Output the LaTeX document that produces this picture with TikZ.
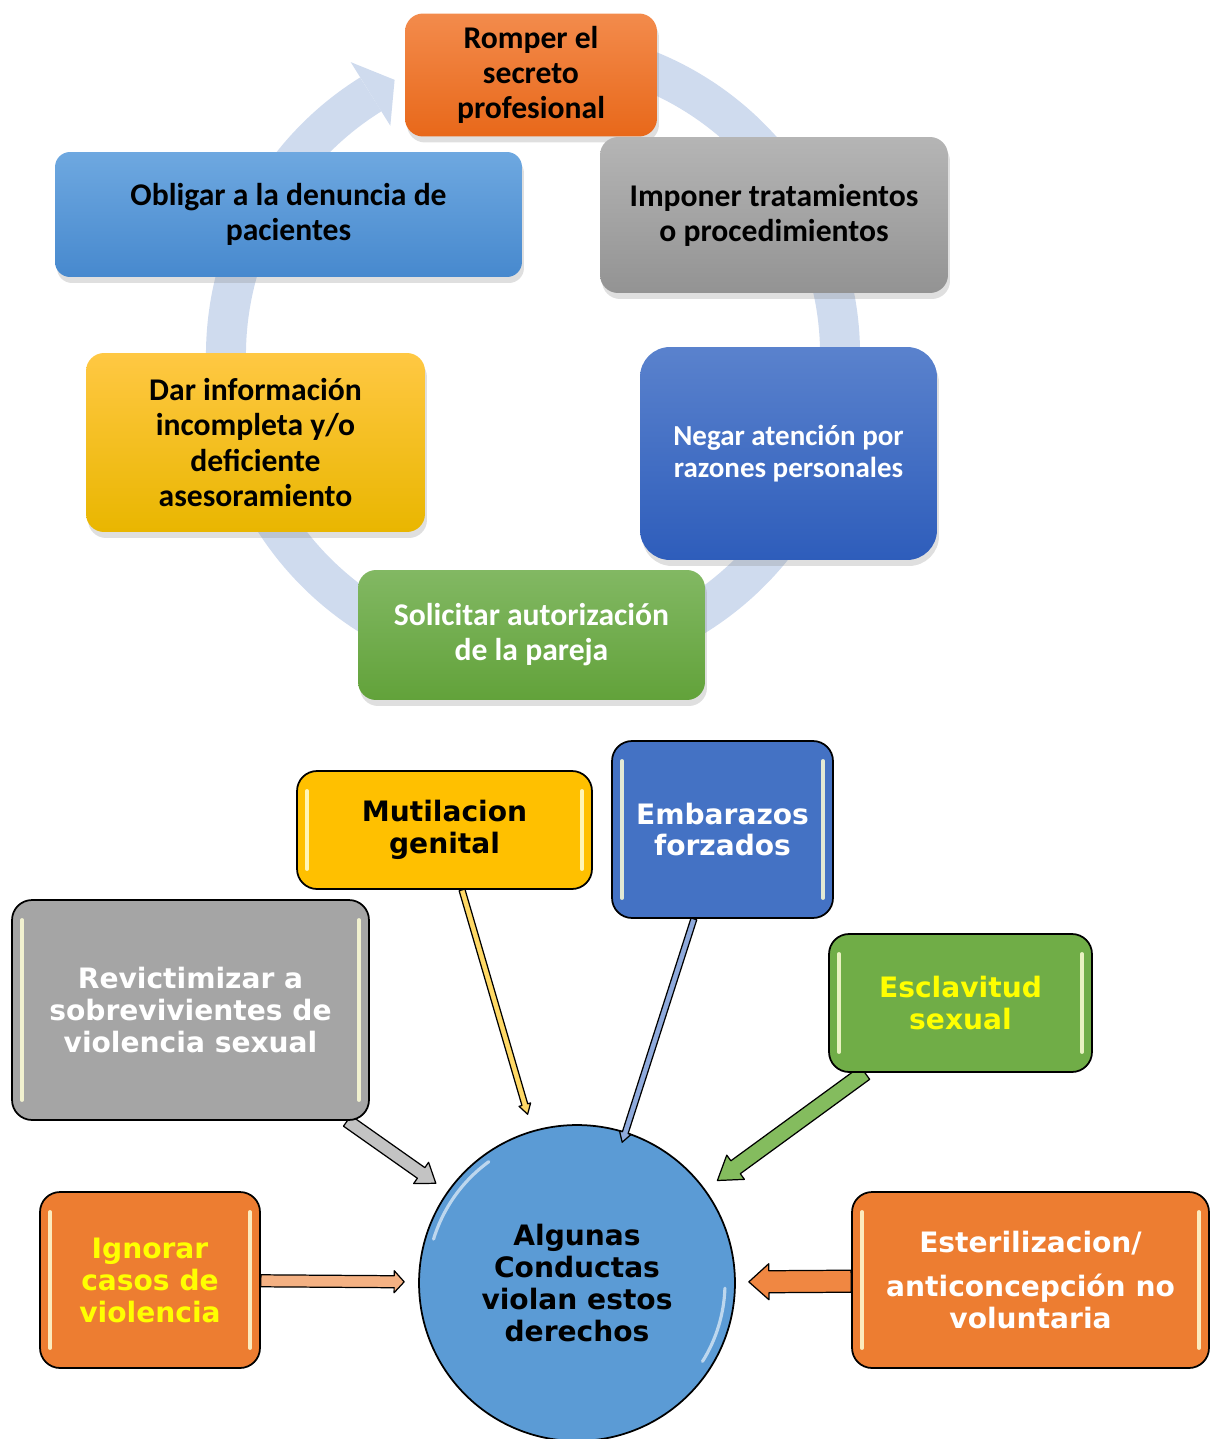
\documentclass[tikz,border=0pt]{standalone}
\usepackage{fontspec}
\newfontfamily\cyclefont{Carlito}
\newfontfamily\rightsfont{DejaVu Sans}
\usetikzlibrary{calc,shadows,backgrounds}

% colours of the cycle
\definecolor{ringblue}{RGB}{207,219,238}
\definecolor{romtop}{RGB}{243,139,76}
\definecolor{rombot}{RGB}{232,104,26}
\definecolor{obltop}{RGB}{110,168,224}
\definecolor{oblbot}{RGB}{71,137,206}
\definecolor{imptop}{RGB}{181,181,181}
\definecolor{impbot}{RGB}{147,147,147}
\definecolor{dartop}{RGB}{255,200,67}
\definecolor{darmid}{RGB}{255,192,0}
\definecolor{darbot}{RGB}{233,182,0}
\definecolor{negtop}{RGB}{90,130,205}
\definecolor{negbot}{RGB}{46,93,187}
\definecolor{soltop}{RGB}{130,184,99}
\definecolor{solbot}{RGB}{98,162,58}
% colours of the rights
\definecolor{mutyellow}{RGB}{255,192,0}
\definecolor{embblue}{RGB}{68,114,196}
\definecolor{revgrey}{RGB}{165,165,165}
\definecolor{escgreen}{RGB}{112,173,71}
\definecolor{orangebox}{RGB}{237,125,49}
\definecolor{circblue}{RGB}{91,155,213}
\definecolor{textyellow}{RGB}{255,255,0}
\definecolor{arrmut}{RGB}{255,217,102}
\definecolor{arremb}{RGB}{143,170,220}
\definecolor{arrrev}{RGB}{195,195,195}
\definecolor{arresc}{RGB}{132,188,94}
\definecolor{arrign}{RGB}{244,177,131}
\definecolor{arrest}{RGB}{240,135,66}
\definecolor{shine}{RGB}{255,255,215}

\tikzset{
  cyclebox/.style={rounded corners=0.36cm, align=center, inner sep=0pt,
    font=\cyclefont\bfseries\fontsize{18}{20}\selectfont,
    drop shadow={shadow xshift=0.04cm, shadow yshift=-0.12cm, opacity=0.25}},
  rightbox/.style={draw=black, line width=1pt, rounded corners=0.4cm, align=center, inner sep=0pt,
    font=\rightsfont\bfseries\fontsize{16}{18.2}\selectfont,
    path picture={
      \draw[shine, opacity=0.85, line width=2.2pt, line cap=round]
        ([xshift=0.2cm, yshift=-0.4cm]path picture bounding box.north west) -- ([xshift=0.2cm, yshift=0.4cm]path picture bounding box.south west)
        ([xshift=-0.2cm, yshift=-0.4cm]path picture bounding box.north east) -- ([xshift=-0.2cm, yshift=0.4cm]path picture bounding box.south east);
    }},
  blockarr/.style={draw=black, line width=0.7pt, line join=round},
}

% block arrow: from, to, colour, shaft half width, head half width, head length, gap at tip
\newcommand{\blockarrow}[7]{%
  \path (#1) -- (#2) coordinate[pos=0] (ba-s) coordinate[pos=1] (ba-e);
  \coordinate (ba-t) at ($(ba-e)!#7!(ba-s)$);
  \coordinate (ba-h) at ($(ba-t)!#6!(ba-s)$);
  \draw[blockarr, fill=#3]
    ($(ba-s)!#4!90:(ba-t)$) -- ($(ba-h)!#4!-90:(ba-s)$) -- ($(ba-h)!#5!-90:(ba-s)$)
    -- (ba-t) -- ($(ba-h)!#5!90:(ba-s)$) -- ($(ba-h)!#4!90:(ba-s)$)
    -- ($(ba-s)!#4!-90:(ba-t)$) -- cycle;
}

\begin{document}
\begin{tikzpicture}[x=0.02cm, y=-0.02cm]
    \useasboundingbox (0,0) rectangle (1216,1439);

    % Cycle ring
    \draw[ringblue, line width=0.8cm] ($(533,355)+(-80:307)$) arc[start angle=-80, end angle=238.1, radius=307];
    \fill[ringblue] ($(533,355)+(238.1:345)$) -- ($(533,355)+(243.3:308)$) -- ($(533,355)+(238.1:270)$) -- cycle;

    % Cycle boxes
    \node[cyclebox, top color=romtop, bottom color=rombot, minimum width=5.04cm, minimum height=2.46cm] (romper) at (531,75) {Romper el\\secreto\\profesional};
    \node[cyclebox, top color=obltop, bottom color=oblbot, rounded corners=0.3cm, minimum width=9.34cm, minimum height=2.5cm] (obligar) at (288.5,214.5) {Obligar a la denuncia de\\pacientes};
    \node[cyclebox, top color=imptop, bottom color=impbot, minimum width=6.96cm, minimum height=3.12cm] (imponer) at (774,215) {Imponer tratamientos\\o procedimientos};
    \node[cyclebox, top color=dartop, middle color=darmid, bottom color=darbot, minimum width=6.78cm, minimum height=3.58cm] (dar) at (255.5,442.5) {Dar información\\incompleta y/o\\deficiente\\asesoramiento};
    \node[cyclebox, top color=negtop, bottom color=negbot, rounded corners=0.6cm, text=white, font=\cyclefont\bfseries\fontsize{16.5}{18.2}\selectfont, minimum width=5.94cm, minimum height=4.26cm] (negar) at (788.5,453.5) {Negar atención por\\razones personales};
    \node[cyclebox, top color=soltop, bottom color=solbot, text=white, minimum width=6.94cm, minimum height=2.6cm] (solicitar) at (531.5,635) {Solicitar autorización\\de la pareja};

    % Rights boxes
    \node[rightbox, fill=mutyellow, minimum width=5.9cm, minimum height=2.36cm] (mutil) at (444.5,830) {Mutilacion\\genital};
    \node[rightbox, fill=embblue, text=white, minimum width=4.42cm, minimum height=3.54cm] (embar) at (722.5,829.5) {Embarazos\\forzados};
    \node[rightbox, fill=revgrey, text=white, minimum width=7.14cm, minimum height=4.4cm] (revict) at (190.5,1010) {Revictimizar a\\sobrevivientes de\\violencia sexual};
    \node[rightbox, fill=escgreen, text=textyellow, minimum width=5.26cm, minimum height=2.76cm] (esclav) at (960.5,1003) {Esclavitud\\sexual};
    \node[rightbox, fill=orangebox, text=textyellow, minimum width=4.4cm, minimum height=3.52cm] (ignorar) at (150,1280) {Ignorar\\casos de\\violencia};
    \node[rightbox, fill=orangebox, text=white, minimum width=7.14cm, minimum height=3.52cm] (esteril) at (1030.5,1280) {Esterilizacion/\\[0.26cm]anticoncepción no\\voluntaria};

    % Centre circle
    \node[circle, draw=black, line width=1pt, fill=circblue, minimum size=6.32cm, inner sep=0pt, align=center,
      font=\rightsfont\bfseries\fontsize{16}{18.2}\selectfont,
      path picture={
        \draw[white, opacity=0.6, line width=1.8pt, line cap=round]
          ($(path picture bounding box.center)+(197:150)$) arc[start angle=197, end angle=234, radius=150]
          ($(path picture bounding box.center)+(2:148)$) arc[start angle=2, end angle=32, radius=148];
      }] (algunas) at (577,1283) {Algunas\\Conductas\\violan estos\\derechos};

    % Block arrows to the circle
    \begin{scope}[on background layer]
      \blockarrow{mutil}{algunas}{arrmut}{0.06cm}{0.12cm}{0.2cm}{0.34cm}
      \blockarrow{revict}{algunas}{arrrev}{0.13cm}{0.26cm}{0.36cm}{0.28cm}
      \blockarrow{esclav}{algunas}{arresc}{0.16cm}{0.3cm}{0.45cm}{0.3cm}
      \blockarrow{ignorar}{algunas}{arrign}{0.12cm}{0.22cm}{0.2cm}{0.28cm}
      \blockarrow{esteril}{algunas}{arrest}{0.22cm}{0.36cm}{0.4cm}{0.26cm}
    \end{scope}
    % this one reaches into the circle
    \blockarrow{embar}{algunas}{arremb}{0.06cm}{0.12cm}{0.2cm}{-0.22cm}
\end{tikzpicture}
\end{document}
